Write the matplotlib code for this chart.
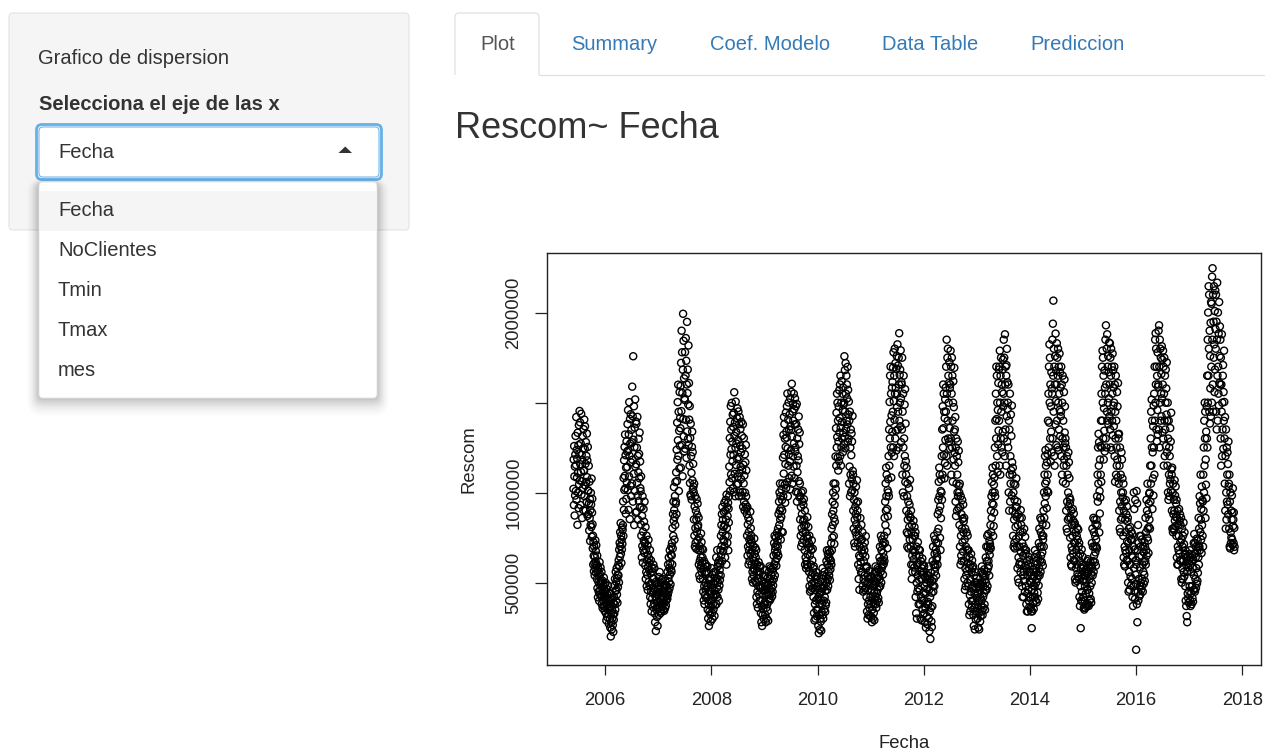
import matplotlib
matplotlib.use("Agg")
import matplotlib.pyplot as plt
import matplotlib.dates as mdates
from matplotlib.patches import FancyBboxPatch, Rectangle, Polygon
import numpy as np
import pandas as pd

plt.rcParams["font.family"] = ["Liberation Sans", "DejaVu Sans"]

# ---- sidebar / tabs text ----
panel_title = "Grafico de dispersion"
select_label = "Selecciona el eje de las x"
x_options = ["Fecha", "NoClientes", "Tmin", "Tmax", "mes"]
selected_option = "Fecha"
tab_names = ["Plot", "Summary", "Coef. Modelo", "Data Table", "Prediccion"]
plot_title = "Rescom~ Fecha"

# ---- Rescom (thousands), one row per month ----
rescom_2005 = [
    1024, 1187, 934, 1262, 1093, 876, 1148, 987, 1215,
    1318, 1012, 1157, 1423, 963, 1241, 1086, 1192, 824, 1336, 1113, 1004, 1267, 917, 1378, 1049, 1221, 1457,
    1071, 1394, 1161, 934, 1276, 1118, 1441, 992, 1213, 1067, 862, 1184, 1318, 1027, 1249, 906, 1356, 1128,
    1124, 1409, 983, 1246, 1372, 1043, 1163, 903, 1284, 1062, 1207, 951, 1331, 1089, 1182, 874, 1257, 1016,
    1013, 884, 1152, 943, 793, 1064, 861, 967, 734, 906, 823, 1002, 937, 812, 1081, 758, 892, 969,
    827, 693, 764, 603, 728, 652, 566, 704, 612, 543, 647, 584, 738, 621, 679, 558, 711, 596,
    604, 523, 653, 472, 566, 421, 583, 507, 454, 541, 402, 494, 617, 438, 548, 461, 587, 512,
    503, 424, 562, 383, 476, 432, 514, 361, 452, 404, 487, 372, 531, 418, 466, 347, 493, 439,
]
rescom_2006 = [
    454, 373, 502, 334, 426, 293, 468, 381, 312, 437, 356, 403, 487, 327, 411, 274, 446, 361,
    384, 302, 441, 253, 367, 204, 336, 281, 407, 243, 352, 304, 418, 267, 326, 229, 389, 296,
    423, 331, 487, 382, 524, 353, 456, 563, 402, 507, 463, 584, 437, 528, 391, 547, 478, 602,
    543, 627, 504, 686, 593, 724, 647, 783, 706, 834, 663, 764, 612, 741, 687, 809, 718, 796,
    823, 954, 762, 1084, 907, 1183, 1018, 1257, 1096, 1326, 1027, 1211, 886, 1142, 968, 1288, 1061, 1231,
    1146, 1384, 1017, 1462, 1238, 907, 1327, 1093, 1506, 1208, 856, 1412, 1276, 1041, 1439, 1172, 983, 1352,
    1283, 1054, 1592, 1186, 1427, 953, 1761, 1297, 1107, 1483, 823, 1256, 1364, 1012, 1521, 1147, 892, 1398,
    1161, 1386, 897, 1253, 1057, 1424, 986, 1207, 853, 1116, 1302, 957, 1218, 1083, 1337, 922, 1176, 1028,
    1011, 826, 1093, 764, 923, 643, 874, 706, 983, 614, 786, 684, 912, 737, 842, 668, 953, 721,
    727, 598, 812, 523, 686, 562, 764, 483, 627, 546, 709, 462, 658, 591, 741, 507, 638, 574,
    611, 487, 684, 423, 556, 384, 627, 452, 497, 343, 562, 414, 581, 446, 526, 367, 603, 471,
    524, 386, 583, 332, 464, 283, 427, 506, 234, 409, 353, 452, 497, 312, 438, 262, 471, 367,
]
rescom_2007 = [
    483, 362, 534, 324, 447, 392, 562, 343, 476, 413, 334, 503, 427, 356, 518, 371, 454, 398,
    453, 384, 523, 352, 473, 414, 346, 492, 393, 447, 362, 512, 438, 376, 486, 403, 461, 427,
    484, 413, 563, 436, 604, 527, 453, 643, 506, 584, 472, 683, 548, 612, 493, 657, 574, 702,
    563, 654, 723, 604, 806, 693, 884, 763, 953, 846, 1034, 906, 742, 867, 984, 823, 1062, 941,
    953, 1116, 884, 1241, 1067, 1392, 1186, 1506, 1294, 1603, 1207, 1452, 1012, 1347, 1138, 1562, 1264, 1418,
    1361, 1596, 1142, 1724, 1456, 1903, 1268, 1783, 1557, 1094, 1686, 1997, 1412, 1847, 1316, 1638, 1232, 1527,
    1518, 1784, 1247, 1654, 1862, 1407, 1736, 1196, 1604, 1952, 1343, 1556, 1687, 1302, 1493, 1821, 1268, 1612,
    1409, 1153, 1484, 1056, 1307, 992, 1386, 983, 1206, 1113, 964, 1257, 1342, 1071, 1228, 1021, 1163, 1036,
    1006, 854, 1053, 764, 926, 703, 984, 806, 724, 903, 692, 853, 967, 783, 881, 738, 942, 812,
    823, 684, 864, 603, 754, 543, 706, 624, 523, 683, 584, 643, 776, 597, 728, 561, 691, 612,
    643, 524, 686, 453, 583, 404, 623, 483, 383, 553, 434, 503, 607, 463, 562, 417, 591, 478,
    563, 423, 594, 353, 486, 304, 527, 384, 262, 453, 343, 403, 518, 327, 441, 287, 496, 372,
]
rescom_2008 = [
    524, 403, 583, 334, 473, 302, 546, 383, 434, 354, 503, 423, 562, 318, 457, 376, 512, 441,
    563, 434, 643, 383, 527, 473, 684, 423, 593, 504, 613, 464, 547, 402, 626, 487, 574, 518,
    604, 683, 543, 763, 654, 823, 706, 884, 623, 924, 783, 853, 677, 742, 812, 896, 731, 947,
    704, 824, 643, 903, 764, 963, 853, 603, 992, 806, 923, 724, 873, 761, 947, 682, 914, 837,
    983, 1148, 1061, 1306, 1012, 1397, 1214, 1484, 1104, 1353, 1244, 1502, 1083, 1287, 1176, 1436, 1027, 1368,
    1212, 1446, 1006, 1561, 1318, 1108, 1394, 983, 1253, 1509, 1157, 1341, 1276, 1047, 1417, 1189, 1472, 1092,
    1296, 1053, 1454, 1201, 983, 1384, 1112, 1423, 1004, 1263, 1357, 1146, 1227, 1078, 1396, 986, 1318, 1131,
    1247, 1006, 1383, 924, 1158, 1054, 1306, 953, 1098, 904, 1216, 1003, 1172, 937, 1268, 982, 1127, 913,
    884, 764, 923, 653, 826, 703, 863, 604, 784, 683, 743, 623, 847, 716, 897, 662, 805, 741,
    764, 603, 726, 523, 684, 563, 643, 503, 706, 583, 543, 623, 748, 571, 662, 514, 697, 608,
    643, 503, 684, 423, 563, 384, 604, 453, 523, 363, 483, 563, 617, 438, 546, 402, 592, 476,
    563, 403, 594, 334, 473, 283, 514, 373, 262, 443, 323, 483, 536, 356, 457, 302, 498, 381,
]
rescom_2009 = [
    543, 393, 573, 324, 463, 283, 504, 363, 434, 303, 483, 383, 527, 347, 446, 291, 492, 412,
    563, 434, 593, 403, 523, 463, 583, 413, 503, 443, 543, 473, 576, 427, 512, 452, 561, 487,
    583, 653, 523, 723, 604, 763, 543, 683, 703, 623, 753, 663, 596, 712, 638, 781, 672, 734,
    704, 803, 653, 884, 763, 953, 823, 1004, 903, 1054, 853, 983, 742, 917, 868, 1021, 786, 962,
    903, 1054, 783, 1198, 983, 1324, 1109, 1423, 1213, 1384, 1047, 1303, 947, 1162, 1257, 1448, 1028, 1342,
    1309, 1483, 1061, 1554, 1249, 983, 1408, 1153, 1504, 1216, 1354, 1083, 1437, 1176, 1528, 1022, 1372, 1238,
    1351, 1563, 1097, 1608, 1314, 1053, 1453, 1206, 1497, 1403, 1148, 1553, 1278, 1467, 1084, 1382, 1527, 1231,
    1254, 1483, 1008, 1384, 1153, 1496, 953, 1304, 1117, 1206, 1003, 1354, 1182, 1426, 1067, 1273, 978, 1337,
    1053, 854, 983, 763, 923, 703, 1004, 806, 884, 723, 953, 783, 1012, 847, 936, 742, 967, 821,
    854, 683, 903, 603, 783, 643, 823, 583, 723, 623, 763, 603, 867, 662, 748, 591, 812, 697,
    723, 563, 764, 483, 653, 453, 703, 523, 603, 463, 683, 543, 738, 497, 627, 472, 691, 558,
    583, 423, 594, 334, 503, 293, 543, 383, 463, 303, 523, 403, 561, 352, 481, 316, 537, 412,
]
rescom_2010 = [
    483, 353, 503, 263, 423, 222, 463, 323, 383, 243, 443, 303, 472, 287, 404, 236, 451, 338,
    523, 383, 583, 323, 473, 303, 543, 403, 483, 353, 563, 423, 507, 341, 458, 376, 538, 392,
    623, 503, 683, 463, 604, 523, 663, 483, 643, 563, 683, 543, 592, 637, 517, 671, 576, 624,
    623, 723, 603, 803, 683, 883, 753, 953, 823, 1004, 903, 1054, 762, 862, 718, 936, 842, 983,
    1053, 1204, 1023, 1361, 1153, 1447, 1254, 1553, 1312, 1503, 1199, 1403, 1126, 1287, 1482, 1178, 1572, 1337,
    1418, 1604, 1206, 1653, 1364, 1153, 1503, 1254, 1623, 1396, 1304, 1553, 1462, 1228, 1587, 1336, 1492, 1274,
    1503, 1761, 1313, 1684, 1453, 1249, 1723, 1553, 1358, 1653, 1403, 1604, 1527, 1382, 1702, 1286, 1574, 1437,
    1304, 1509, 1053, 1403, 1148, 1453, 983, 1254, 1103, 1354, 1004, 1211, 1332, 1078, 1287, 1016, 1429, 1124,
    1103, 903, 1053, 803, 963, 723, 1004, 853, 703, 923, 783, 883, 1036, 827, 947, 762, 1072, 866,
    903, 723, 953, 603, 803, 523, 763, 653, 463, 703, 583, 643, 862, 617, 742, 558, 824, 682,
    743, 563, 783, 483, 663, 453, 703, 523, 623, 463, 683, 543, 726, 507, 648, 472, 761, 591,
    583, 423, 594, 343, 503, 303, 543, 383, 463, 323, 523, 403, 568, 362, 487, 318, 536, 427,
]
rescom_2011 = [
    523, 383, 534, 313, 463, 283, 503, 353, 423, 303, 483, 383, 512, 336, 447, 294, 491, 408,
    563, 423, 593, 383, 503, 363, 563, 443, 523, 403, 583, 463, 547, 417, 574, 392, 536, 478,
    643, 523, 703, 483, 623, 563, 763, 503, 683, 583, 743, 623, 597, 712, 548, 668, 727, 606,
    643, 763, 623, 863, 723, 953, 823, 1054, 903, 1142, 983, 1103, 786, 912, 694, 1017, 872, 1078,
    1004, 1206, 983, 1354, 1153, 1507, 1304, 1653, 1397, 1703, 1254, 1553, 1087, 1432, 1226, 1587, 1342, 1618,
    1453, 1698, 1254, 1783, 1511, 1206, 1653, 1408, 1803, 1553, 1304, 1723, 1586, 1347, 1692, 1238, 1762, 1478,
    1553, 1827, 1354, 1709, 1453, 1254, 1753, 1604, 1889, 1403, 1658, 1503, 1687, 1372, 1794, 1528, 1283, 1617,
    1604, 1354, 1753, 1103, 1453, 1004, 1553, 1254, 1653, 983, 1304, 1153, 1492, 1207, 1578, 1062, 1387, 1178,
    1103, 903, 1142, 783, 983, 703, 1053, 853, 773, 953, 693, 883, 1027, 812, 936, 742, 1074, 867,
    863, 703, 903, 603, 783, 523, 823, 653, 563, 743, 603, 683, 847, 632, 764, 587, 812, 674,
    763, 563, 783, 423, 653, 333, 703, 503, 303, 603, 453, 543, 728, 472, 612, 382, 687, 518,
    653, 463, 683, 383, 563, 303, 623, 423, 523, 293, 583, 403, 637, 357, 548, 326, 602, 447,
]
rescom_2012 = [
    563, 403, 593, 333, 483, 283, 533, 363, 443, 253, 503, 383, 547, 317, 468, 272, 521, 396,
    543, 383, 593, 303, 463, 233, 523, 343, 423, 190, 503, 363, 557, 287, 447, 256, 512, 372,
    623, 483, 703, 453, 603, 523, 763, 483, 663, 563, 743, 603, 587, 687, 542, 724, 631, 668,
    643, 783, 603, 883, 723, 963, 803, 1063, 903, 1142, 983, 1103, 752, 927, 684, 1012, 861, 1076,
    1004, 1206, 963, 1354, 1103, 1483, 1254, 1604, 1361, 1553, 1213, 1453, 1082, 1417, 1168, 1522, 1296, 1587,
    1453, 1703, 1206, 1853, 1553, 1153, 1753, 1403, 1803, 1304, 1653, 1503, 1612, 1287, 1728, 1362, 1584, 1247,
    1604, 1792, 1304, 1703, 1103, 1553, 1753, 1254, 1653, 1403, 1063, 1503, 1622, 1187, 1478, 1342, 1697, 1226,
    1354, 1153, 1423, 953, 1254, 873, 1304, 1053, 1206, 903, 1103, 1004, 1287, 982, 1172, 917, 1236, 1041,
    1004, 823, 1053, 703, 923, 603, 983, 763, 653, 883, 623, 803, 962, 727, 857, 676, 937, 782,
    843, 623, 863, 523, 743, 463, 803, 583, 483, 703, 543, 643, 782, 567, 687, 502, 764, 612,
    683, 483, 683, 383, 583, 323, 643, 433, 523, 343, 603, 453, 662, 402, 562, 367, 627, 476,
    583, 403, 593, 323, 483, 263, 543, 363, 443, 243, 503, 383, 562, 298, 467, 342, 527, 417,
]
rescom_2013 = [
    503, 363, 493, 303, 443, 253, 483, 333, 403, 243, 463, 353, 478, 287, 421, 318, 497, 376,
    563, 403, 593, 343, 503, 323, 553, 423, 483, 363, 543, 443, 577, 382, 517, 352, 538, 462,
    643, 503, 703, 463, 623, 563, 763, 483, 703, 583, 773, 623, 597, 682, 542, 737, 657, 718,
    703, 823, 693, 903, 783, 983, 863, 1063, 943, 1142, 1004, 1103, 762, 936, 817, 1047, 892, 1087,
    1004, 1254, 983, 1403, 1153, 1553, 1304, 1703, 1412, 1653, 1206, 1503, 1117, 1462, 1272, 1612, 1348, 1687,
    1403, 1703, 1153, 1792, 1503, 1103, 1653, 1304, 1753, 1453, 1254, 1604, 1562, 1227, 1687, 1342, 1742, 1482,
    1553, 1853, 1304, 1753, 1503, 1206, 1883, 1604, 1354, 1703, 1153, 1653, 1712, 1427, 1802, 1287, 1617, 1468,
    1503, 1254, 1604, 1004, 1403, 903, 1354, 1103, 1553, 953, 1206, 1053, 1437, 1127, 1318, 987, 1487, 1172,
    1103, 903, 1142, 763, 1004, 703, 1053, 853, 723, 963, 693, 883, 1047, 812, 927, 746, 1082, 868,
    923, 703, 953, 583, 823, 523, 883, 643, 503, 763, 603, 703, 862, 617, 787, 562, 906, 672,
    823, 603, 863, 483, 723, 423, 783, 543, 653, 423, 703, 563, 802, 512, 687, 452, 757, 597,
    663, 483, 683, 383, 583, 343, 623, 443, 543, 343, 603, 463, 647, 402, 562, 367, 628, 512,
]
rescom_2014 = [
    563, 423, 593, 363, 503, 343, 543, 250, 463, 343, 523, 423, 577, 388, 487, 357, 536, 447,
    643, 483, 683, 423, 583, 403, 623, 503, 563, 393, 663, 523, 607, 447, 542, 412, 637, 487,
    723, 583, 803, 543, 703, 623, 863, 563, 783, 653, 853, 703, 617, 762, 671, 827, 597, 742,
    763, 903, 703, 1004, 863, 1103, 943, 1206, 1053, 1240, 983, 1153, 822, 1067, 917, 1172, 1012, 1218,
    1103, 1403, 1004, 1553, 1254, 1703, 1392, 1827, 1503, 1753, 1304, 1604, 1176, 1482, 1342, 1672, 1227, 1582,
    1553, 1853, 1304, 1942, 1653, 2070, 1453, 1803, 1206, 1703, 1153, 1604, 1762, 1382, 1887, 1512, 1682, 1267,
    1604, 1833, 1403, 1753, 1254, 1653, 1803, 1503, 1240, 1703, 1354, 1553, 1776, 1462, 1672, 1317, 1587, 1428,
    1453, 1703, 1206, 1604, 1103, 1503, 1304, 1653, 1063, 1403, 1254, 1153, 1562, 1187, 1632, 1337, 1482, 1278,
    1304, 1053, 1254, 903, 1153, 803, 1206, 953, 783, 1103, 853, 1004, 1227, 927, 1172, 862, 1084, 976,
    943, 753, 963, 643, 863, 603, 903, 703, 593, 823, 683, 763, 912, 662, 847, 627, 887, 726,
    823, 623, 833, 523, 723, 503, 783, 583, 683, 513, 763, 603, 807, 552, 742, 537, 797, 647,
    703, 523, 723, 423, 623, 373, 663, 483, 250, 583, 403, 543, 687, 452, 602, 397, 647, 512,
]
rescom_2015 = [
    583, 423, 593, 363, 523, 353, 563, 403, 483, 363, 543, 443, 577, 382, 507, 372, 552, 462,
    623, 463, 633, 383, 563, 373, 603, 443, 523, 403, 583, 483, 617, 412, 547, 392, 597, 502,
    723, 583, 803, 543, 703, 623, 863, 563, 783, 653, 853, 703, 617, 762, 671, 827, 597, 742,
    703, 853, 693, 983, 823, 1103, 953, 1254, 1053, 1330, 1153, 1283, 782, 1012, 887, 1187, 976, 1262,
    1103, 1403, 1063, 1553, 1254, 1703, 1403, 1792, 1503, 1753, 1304, 1653, 1187, 1472, 1347, 1682, 1232, 1587,
    1553, 1853, 1304, 1933, 1604, 1254, 1803, 1453, 1883, 1403, 1703, 1503, 1762, 1382, 1672, 1527, 1837, 1427,
    1604, 1833, 1354, 1753, 1254, 1653, 1803, 1453, 1240, 1703, 1403, 1553, 1776, 1322, 1682, 1487, 1587, 1372,
    1503, 1703, 1206, 1604, 1063, 1453, 1304, 1653, 1103, 1403, 1254, 1153, 1562, 1187, 1482, 1087, 1612, 1327,
    1304, 1053, 1330, 903, 1153, 803, 1254, 953, 783, 1103, 853, 1004, 1227, 927, 1187, 862, 1082, 976,
    1004, 763, 1053, 643, 903, 603, 953, 703, 593, 853, 683, 783, 962, 667, 882, 627, 927, 732,
    843, 623, 863, 503, 723, 453, 803, 563, 683, 463, 763, 603, 812, 537, 742, 487, 787, 652,
    743, 523, 773, 423, 643, 373, 703, 483, 1004, 583, 912, 453, 687, 412, 962, 547, 627, 497,
]
rescom_2016 = [
    130, 603, 1012, 383, 943, 283, 683, 453, 823, 403, 723, 523, 647, 427, 762, 482, 587, 437,
    703, 503, 763, 463, 653, 483, 743, 523, 603, 453, 703, 563, 672, 497, 617, 547, 727, 512,
    703, 623, 863, 603, 783, 683, 963, 653, 903, 753, 1053, 803, 737, 882, 667, 942, 812, 997,
    853, 1004, 803, 1153, 953, 1304, 1053, 1453, 1153, 1520, 1254, 1403, 912, 1227, 1082, 1372, 987, 1487,
    1254, 1553, 1103, 1703, 1403, 1853, 1503, 1889, 1604, 1803, 1354, 1703, 1287, 1652, 1462, 1782, 1327, 1592,
    1604, 1903, 1354, 1933, 1703, 1254, 1853, 1503, 1803, 1403, 1753, 1553, 1662, 1427, 1817, 1527, 1742, 1337,
    1604, 1792, 1304, 1703, 1153, 1553, 1753, 1403, 1206, 1653, 1354, 1503, 1687, 1262, 1582, 1437, 1727, 1227,
    1403, 1153, 1503, 1004, 1304, 963, 1403, 1103, 1254, 983, 1206, 1053, 1362, 1077, 1287, 1012, 1447, 1132,
    1103, 903, 1142, 803, 1004, 783, 1053, 883, 803, 963, 793, 903, 1072, 847, 987, 817, 1037, 867,
    943, 763, 963, 643, 863, 603, 903, 703, 603, 823, 683, 763, 912, 662, 847, 627, 882, 727,
    823, 623, 863, 523, 743, 503, 803, 583, 703, 523, 763, 623, 837, 562, 717, 537, 782, 657,
    663, 483, 683, 403, 603, 373, 643, 317, 563, 283, 623, 443, 647, 417, 587, 392, 612, 457,
]
rescom_2017 = [
    663, 483, 683, 403, 603, 373, 643, 443, 563, 383, 623, 483, 657, 417, 587, 397, 632, 462,
    723, 543, 773, 463, 663, 453, 723, 523, 643, 473, 703, 583, 747, 497, 682, 512, 737, 557,
    703, 643, 863, 603, 803, 703, 983, 683, 943, 783, 1103, 853, 742, 912, 667, 1037, 822, 962,
    763, 953, 703, 1103, 903, 1254, 1004, 1403, 1153, 1503, 1304, 1453, 862, 1187, 1047, 1342, 972, 1482,
    1304, 1653, 1254, 1853, 1503, 2004, 1653, 2150, 1803, 2103, 1453, 1903, 1387, 1762, 1582, 1947, 1427, 2062,
    1703, 2053, 1503, 2203, 1853, 2250, 1604, 2103, 1453, 1953, 1753, 2150, 1827, 1562, 2012, 1687, 2127, 1912,
    1803, 2103, 1453, 1953, 1354, 1853, 2170, 1653, 1403, 2004, 1703, 1553, 1887, 1487, 2062, 1612, 1762, 1927,
    1604, 1853, 1304, 1753, 1153, 1604, 1453, 1883, 1206, 1503, 1354, 1653, 1712, 1247, 1562, 1402, 1792, 1507,
    1304, 1053, 1423, 903, 1206, 803, 1354, 1004, 853, 1254, 953, 1103, 1227, 937, 1162, 882, 1287, 1037,
    1053, 803, 1103, 703, 953, 693, 1004, 783, 723, 903, 753, 853, 987, 742, 892, 712, 1027, 817,
    853, 723, 893, 683, 807, 702,
]

# first / last day covered by each yearly block
year_spans = [
    ("2005-05-28", "2005-12-31", rescom_2005),
    ("2006-01-01", "2006-12-31", rescom_2006),
    ("2007-01-01", "2007-12-31", rescom_2007),
    ("2008-01-01", "2008-12-31", rescom_2008),
    ("2009-01-01", "2009-12-31", rescom_2009),
    ("2010-01-01", "2010-12-31", rescom_2010),
    ("2011-01-01", "2011-12-31", rescom_2011),
    ("2012-01-01", "2012-12-31", rescom_2012),
    ("2013-01-01", "2013-12-31", rescom_2013),
    ("2014-01-01", "2014-12-31", rescom_2014),
    ("2015-01-01", "2015-12-31", rescom_2015),
    ("2016-01-01", "2016-12-31", rescom_2016),
    ("2017-01-01", "2017-11-08", rescom_2017),
]

fechas, valores = [], []
for start, end, vals in year_spans:
    fechas.append(pd.date_range(start, end, periods=len(vals)))
    valores.append(np.array(vals) * 1000.0)
fecha = np.concatenate([d.to_pydatetime() for d in fechas])
rescom = np.concatenate(valores)

W, H = 1265, 752
fig = plt.figure(figsize=(W / 100, H / 100), dpi=100)
fig.patch.set_facecolor("white")

# overlay in pixel units for the page widgets
ui = fig.add_axes([0, 0, 1, 1])
ui.set_xlim(0, W)
ui.set_ylim(H, 0)
ui.axis("off")


def rbox(x0, y0, x1, y1, r, fc, ec="none", lw=0.0, z=1, alpha=1.0):
    p = FancyBboxPatch((x0, y0), x1 - x0, y1 - y0,
                       boxstyle=f"round,pad=0,rounding_size={r}",
                       fc=fc, ec=ec, lw=lw, zorder=z, alpha=alpha)
    ui.add_patch(p)
    return p


txt = "#333333"
fs = 14.5

# sidebar well
rbox(9, 13, 409, 230, 4, "#f5f5f5", "#e3e3e3", 0.8, z=1)
ui.text(38, 59, panel_title, fontsize=fs, color=txt, va="center", ha="left", zorder=5)
ui.text(39, 104, select_label, fontsize=fs, color=txt, va="center", ha="left",
        fontweight="bold", zorder=5)

# select input with focus glow
rbox(36.5, 124.5, 381.5, 179.5, 5.5, "none", (0.4, 0.69, 0.91, 0.12), 2.0, z=2)
rbox(39, 127, 379, 177, 4, "white", "#66afe9", 0.7, z=3)
ui.text(58, 152, selected_option, fontsize=fs, color=txt, va="center", ha="left", zorder=5)
ui.add_patch(Polygon([(338.5, 153), (352, 153), (345.25, 146.5)], closed=True,
                     fc="#333333", ec="none", zorder=5))

# dropdown list with soft shadow
for k, a in enumerate([0.045, 0.04, 0.035, 0.03, 0.025, 0.02, 0.015, 0.01]):
    g = 1.5 * (k + 1)
    rbox(39 - g, 184 - g * 0.5, 377 + g, 398 + g * 1.5, 4 + g, "black", z=2, alpha=a)
rbox(39, 182, 377, 398, 4, "white", "#e2e2e2", 0.6, z=3)
ui.add_patch(Rectangle((40, 191), 336, 40, fc="#f5f5f5", ec="none", zorder=4))
for i, name in enumerate(x_options):
    ui.text(58, 211 + 40 * i, name, fontsize=fs, color=txt, va="center", ha="left", zorder=5)

# nav tabs
rbox(455, 13, 539, 95, 4, "white", "#dddddd", 0.8, z=2)
ui.add_patch(Rectangle((452, 74.6), 92, 30, fc="white", ec="none", zorder=3))
ui.plot([539, W], [74.5, 74.5], color="#dddddd", lw=0.8, zorder=3)
tab_x = [498, 614, 770, 930, 1078]
for i, (name, x) in enumerate(zip(tab_names, tab_x)):
    ui.text(x, 45, name, fontsize=fs, ha="center", va="center",
            color="#555555" if i == 0 else "#337ab7", zorder=5)

ui.text(455, 128, plot_title, fontsize=26, color=txt, ha="left", va="center", zorder=5)

# ---- scatter plot ----
ax = fig.add_axes([547 / W, 1 - 665 / H, (1261 - 547) / W, (665 - 253) / H])
ax.scatter(fecha, rescom, s=26, facecolors="none", edgecolors="black",
           linewidths=1.0, zorder=3)

# R-style 4% padding
xn = mdates.date2num(fecha)
xpad = 0.04 * (xn.max() - xn.min())
ax.set_xlim(xn.min() - xpad, xn.max() + xpad)
ypad = 0.04 * (rescom.max() - rescom.min())
ax.set_ylim(rescom.min() - ypad, rescom.max() + ypad)

ax.xaxis.set_major_locator(mdates.YearLocator(2))
ax.xaxis.set_major_formatter(mdates.DateFormatter("%Y"))
ax.set_yticks([500000, 1000000, 1500000, 2000000])
ax.set_yticklabels(["500000", "1000000", "", "2000000"], rotation=90, va="center")

for s in ax.spines.values():
    s.set_color("#222222")
    s.set_linewidth(1.0)
ax.tick_params(axis="x", length=7.5, width=0.9, pad=12, labelsize=13.3,
               color="#222222", labelcolor="#222222")
ax.tick_params(axis="y", length=8.6, width=0.9, pad=9, labelsize=13.3,
               color="#222222", labelcolor="#222222")

ui.text(904, 744, "Fecha", fontsize=13.3, color="#222222", ha="center", va="center")
ui.text(469, 459, "Rescom", fontsize=13.3, color="#222222", ha="center", va="center",
        rotation=90)

fig.savefig("out.png", dpi=100)
